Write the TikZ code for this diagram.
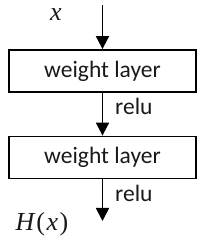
\documentclass[tikz,border=0pt]{standalone}
\usepackage{fontspec}
\setmainfont{Carlito}
\newfontfamily\mathserif{Liberation Serif}
\usetikzlibrary{arrows.meta}
\begin{document}
\begin{tikzpicture}[x=1pt,y=1pt,
  layerbox/.style={draw=black,line width=1.8pt,minimum width=187pt,minimum height=42pt,inner sep=0pt,font=\fontsize{23.5}{26}\selectfont,text=black!90},
  flow/.style={line width=1.8pt,-{Triangle[length=13pt,width=13pt]}},
  lbl/.style={font=\fontsize{23.5}{26}\selectfont,text=black!90,inner sep=0pt},
  mlbl/.style={font=\mathserif\fontsize{26}{28}\selectfont,text=black!90,inner sep=0pt}]
\useasboundingbox (0,0) rectangle (209,247);
\coordinate (top) at (102.5,242);
\node[layerbox] (w1) at (102.5,176) {weight layer};
\node[layerbox] (w2) at (102.5,89.5) {weight layer};
\coordinate (bot) at (102.5,26);
\draw[flow] (top) -- (w1.north);
\draw[flow] (w1.south) -- (w2.north);
\draw[flow] (w2.south) -- (bot);
\node[lbl,anchor=west] (r1) at (115,141) {relu};
\node[lbl,anchor=west] (r2) at (115,54) {relu};
\node[mlbl] (x) at (56,232) {\itshape x};
\node[mlbl] (h) at (42,23) {{\itshape H}\kern2pt(\kern1.5pt{\itshape x}\kern1.5pt)};
\end{tikzpicture}
\end{document}
